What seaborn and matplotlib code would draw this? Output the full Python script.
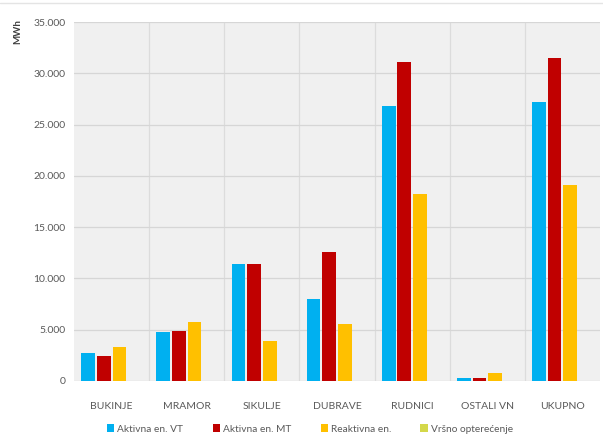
import matplotlib
matplotlib.use("Agg")
import matplotlib.pyplot as plt
import matplotlib.ticker as mticker
from matplotlib.lines import Line2D
import pandas as pd
import seaborn as sns

# Energy consumption by consumer group
categories = ["BUKINJE", "MRAMOR", "SIKULJE", "DUBRAVE", "RUDNICI", "OSTALI VN", "UKUPNO"]
series_names = ["Aktivna en. VT", "Aktivna en. MT", "Reaktivna en.", "Vršno opterećenje"]
aktivna_vt = [2760, 4750, 11370, 7990, 26800, 320, 27200]
aktivna_mt = [2440, 4900, 11370, 12540, 31120, 330, 31450]
reaktivna = [3340, 5720, 3900, 5520, 18230, 750, 19100]
vrsno = [5, 8, 18, 14, 45, 2, 47]
colors = ["#00b0f0", "#c00000", "#ffc000", "#d4d84a"]
y_ticks = [0, 5000, 10000, 15000, 20000, 25000, 30000, 35000]

rows = []
for name, vals in zip(series_names, [aktivna_vt, aktivna_mt, reaktivna, vrsno]):
    for cat, v in zip(categories, vals):
        rows.append({"kategorija": cat, "serija": name, "MWh": v})
df = pd.DataFrame(rows)

sns.set_theme(style="white")
plt.rcParams["font.family"] = ["Lato", "DejaVu Sans"]

fig = plt.figure(figsize=(6.03, 4.37), dpi=100)
fig.patch.set_facecolor("white")
ax = fig.add_axes([74 / 603, 56 / 437, 526 / 603, 359 / 437])
ax.set_facecolor("#f0f0f0")

sns.barplot(data=df, x="kategorija", y="MWh", hue="serija", order=categories,
            hue_order=series_names, palette=colors, width=0.83, gap=0.12,
            saturation=1, errorbar=None, ax=ax, zorder=3, linewidth=0)

ax.set_ylim(0, 35000)
ax.set_xlim(-0.5, len(categories) - 0.5)
ax.set_yticks(y_ticks)
ax.yaxis.set_major_formatter(mticker.FuncFormatter(lambda v, p: f"{v:,.0f}".replace(",", ".")))
ax.set_xticks(range(len(categories)))
ax.set_xticks([i + 0.5 for i in range(len(categories) - 1)], minor=True)
ax.grid(axis="y", which="major", color="#d6d6d6", linewidth=0.9, zorder=0)
ax.grid(axis="x", which="minor", color="#dcdcdc", linewidth=0.9, zorder=0)
ax.set_axisbelow(True)
ax.tick_params(axis="both", which="both", length=0, labelsize=7.5, labelcolor="#595959")
ax.tick_params(axis="y", pad=6)
ax.tick_params(axis="x", pad=15)
for s in ax.spines.values():
    s.set_visible(False)
ax.set_xlabel("")
ax.set_ylabel("")

fig.text(18 / 603, 1 - 32 / 437, "MWh", rotation=90, ha="center", va="center",
         fontsize=7, fontweight="bold", color="#404040")

handles, labels = ax.get_legend_handles_labels()
ax.legend(handles, labels, loc="center", bbox_to_anchor=((310 - 74) / 526, -(429 - 381) / 359),
          ncol=4, frameon=False, fontsize=7.3, labelcolor="#595959",
          handlelength=0.7, handleheight=0.7, handletextpad=0.3, columnspacing=2.9)

fig.add_artist(Line2D([0, 1], [1 - 3 / 437, 1 - 3 / 437], color="#e4e4e4", linewidth=1))

fig.savefig("out.png", dpi=100, facecolor="white")
